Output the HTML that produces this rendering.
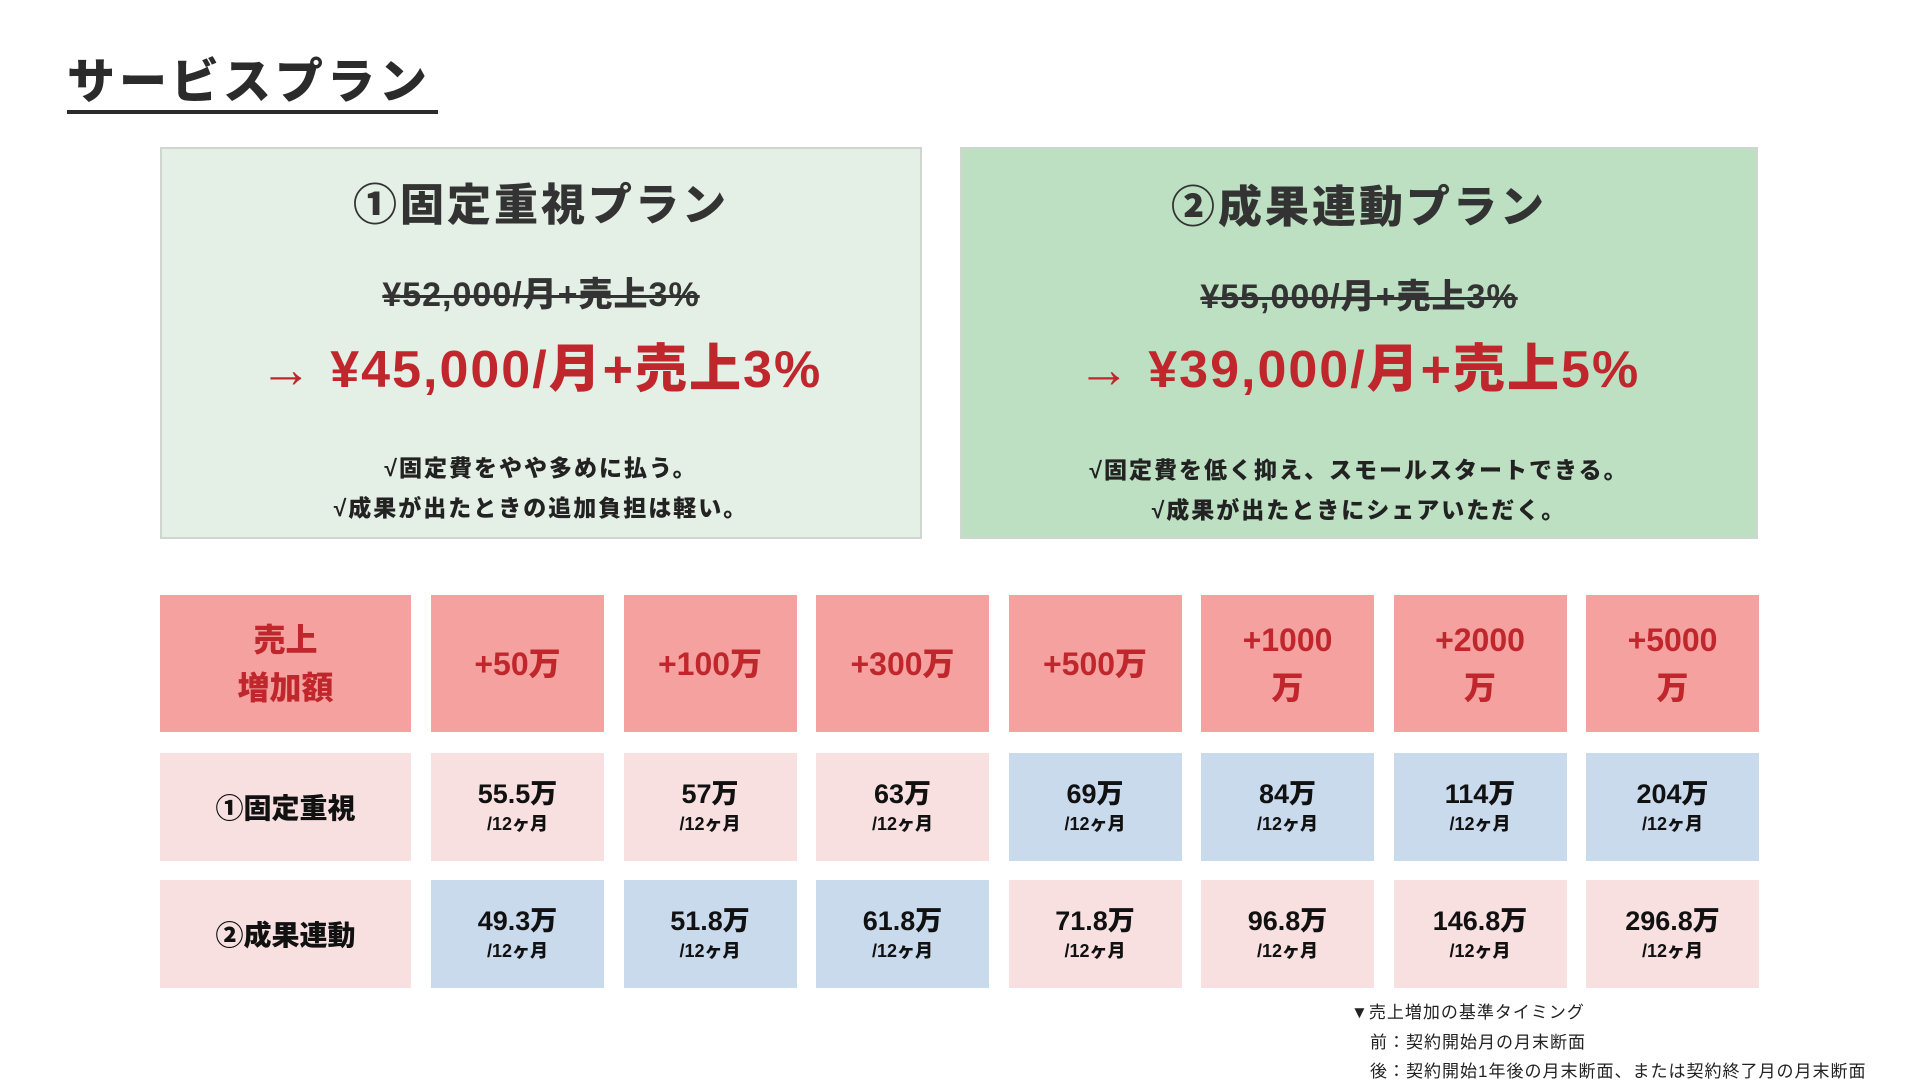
<!DOCTYPE html>
<html lang="ja"><head><meta charset="utf-8">
<style>
*{margin:0;padding:0;box-sizing:border-box}
body{width:1920px;height:1080px;background:#fff;position:relative;overflow:hidden;font-family:"Liberation Sans","Noto Sans CJK JP",sans-serif;font-weight:900;color:#222}
.abs{position:absolute}
.title{left:67px;top:58px;font-size:48px;letter-spacing:4px;color:#2b2b2b;border-bottom:4px solid #2b2b2b;line-height:50px;padding-bottom:2px;width:371px}
.card{top:147px;height:392px;border:2px solid #cfd6d0;text-align:center}
.card h2{position:absolute;left:0;right:0;top:168px}
.ct{position:absolute;left:0;right:0;font-size:44px;letter-spacing:3px;color:#333}
.old{position:absolute;left:0;right:0;font-size:34px;color:#333;text-decoration:line-through;text-decoration-thickness:3px;letter-spacing:1px}
.new{position:absolute;left:0;right:0;font-size:52px;color:#c0272d;letter-spacing:2px}
.bl{position:absolute;left:0;right:0;font-size:23px;letter-spacing:2px;color:#222}
.cell{position:absolute;display:flex;flex-direction:column;align-items:center;justify-content:center;text-align:center}
.hd{background:#f4a1a0;color:#c0272d;font-size:32px;line-height:48px}
.pk{background:#f8e0e1}
.bu{background:#c9daed}
.v{font-size:27px;line-height:34px;color:#111}
.s{font-size:18px;line-height:26px;color:#111}
.lab{font-size:28px;color:#111}
.note{left:1351px;font-size:17px;font-weight:400;color:#222;letter-spacing:1px}
</style></head><body>
<div class="abs title">サービスプラン</div>

<div class="abs card" style="left:160px;width:762px;background:#e4efe6">
 <div class="ct" style="top:166px;top:20px">①固定重視プラン</div>
 <div class="old" style="top:118px">¥52,000/月+売上3%</div>
 <div class="new" style="top:178px">→ ¥45,000/月+売上3%</div>
 <div class="bl" style="top:300px">√固定費をやや多めに払う。</div>
 <div class="bl" style="top:340px">√成果が出たときの追加負担は軽い。</div>
</div>
<div class="abs card" style="left:960px;width:798px;background:#bde0c3">
 <div class="ct" style="top:22px">②成果連動プラン</div>
 <div class="old" style="top:120px">¥55,000/月+売上3%</div>
 <div class="new" style="top:178px">→ ¥39,000/月+売上5%</div>
 <div class="bl" style="top:302px">√固定費を低く抑え、スモールスタートできる。</div>
 <div class="bl" style="top:342px">√成果が出たときにシェアいただく。</div>
</div>

<div id="tbl"></div>

<div class="abs note" style="top:998px">▼売上増加の基準タイミング</div>
<div class="abs note" style="top:1028px;left:1370px">前：契約開始月の月末断面</div>
<div class="abs note" style="top:1057px;left:1370px">後：契約開始1年後の月末断面、または契約終了月の月末断面</div>

<script>
const headers=["+50万","+100万","+300万","+500万","+1000<br>万","+2000<br>万","+5000<br>万"];
const fixedVals=["55.5万","57万","63万","69万","84万","114万","204万"];
const perfVals=["49.3万","51.8万","61.8万","71.8万","96.8万","146.8万","296.8万"];
const fixedBlue=[false,false,false,true,true,true,true];
const perfBlue=[true,true,true,false,false,false,false];
const tbl=document.getElementById('tbl');
const colX=i=>431+i*192.5, colW=173;
const rows=[{top:595,h:137},{top:753,h:108},{top:880,h:108}];
function cell(x,y,w,h,cls,html){const d=document.createElement('div');d.className='cell '+cls;d.style.left=x+'px';d.style.top=y+'px';d.style.width=w+'px';d.style.height=h+'px';d.innerHTML=html;tbl.appendChild(d);return d;}
let c=cell(160,595,251,137,'hd','売上<br>増加額');


c=cell(160,753,251,108,'pk lab','①固定重視');


c=cell(160,880,251,108,'pk lab','②成果連動');


headers.forEach((h,i)=>{
 let d=cell(colX(i),595,colW,137,'hd',h);
 
 
 d=cell(colX(i),753,colW,108,fixedBlue[i]?'bu':'pk','<div class="v">'+fixedVals[i]+'</div><div class="s">/12ヶ月</div>');
 
 
 d=cell(colX(i),880,colW,108,perfBlue[i]?'bu':'pk','<div class="v">'+perfVals[i]+'</div><div class="s">/12ヶ月</div>');
 
 
});
</script>
</body></html>
